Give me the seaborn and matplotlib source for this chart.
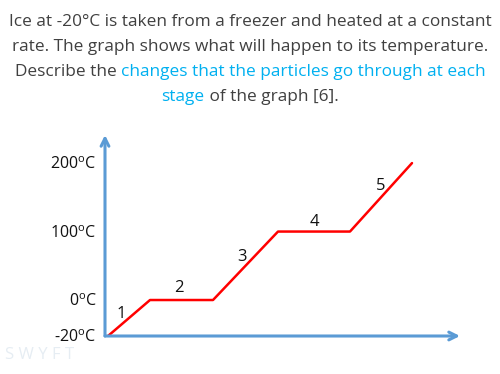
import numpy as np
import pandas as pd
import matplotlib
matplotlib.use("Agg")
import matplotlib.pyplot as plt
import seaborn as sns

# ---- data ----
time = [0, 4.2, 10.5, 17.0, 24.2, 30.4]
temperature = [-20, 0, 0, 100, 100, 200]
stage_labels = ["1", "2", "3", "4", "5"]
stage_x = [1.3, 7.1, 13.4, 20.6, 27.3]
stage_y = [-8, 17, 63, 114, 166]
ytick_values = [-20, 0, 100, 200]
ytick_labels = ["-20$^\\mathregular{o}$C", "0$^\\mathregular{o}$C",
                "100$^\\mathregular{o}$C", "200$^\\mathregular{o}$C"]

sns.set_style("white")
plt.rcParams['font.family'] = ['Open Sans', 'DejaVu Sans']

fig = plt.figure(figsize=(5, 3.74), dpi=100)
ax = fig.add_axes([0.21, 0.1016, 0.71, 0.5374])

# piecewise-linear schematic temperature scale
src = [-20, 0, 300]
dst = [0, 36, 36 + 300 * 0.685]
fwd = lambda v: np.interp(v, src, dst)
inv = lambda v: np.interp(v, dst, src)
ax.set_yscale('function', functions=(fwd, inv))

df = pd.DataFrame({"time": time, "temperature": temperature})
sns.lineplot(data=df, x="time", y="temperature", ax=ax, color="#ff0000",
             linewidth=1.8, sort=False)

ax.set_xlim(-0.3, 35.2)
ax.set_ylim(-20, 241)
for s in ax.spines.values():
    s.set_visible(False)
ax.set_xticks([])
ax.set_yticks(ytick_values)
ax.set_yticklabels(ytick_labels, fontsize=11.5, color="#111111")
ax.tick_params(axis='y', length=0, pad=6)
ax.set_xlabel("")
ax.set_ylabel("")

axis_col = "#5b9bd5"
ax.annotate("", xy=(0, 1.0), xytext=(0, 0), xycoords='axes fraction',
            arrowprops=dict(arrowstyle='->', color=axis_col, lw=2.2,
                            mutation_scale=14, shrinkA=0, shrinkB=0))
ax.annotate("", xy=(1.0, 0), xytext=(0, 0), xycoords='axes fraction',
            arrowprops=dict(arrowstyle='->', color=axis_col, lw=2.2,
                            mutation_scale=14, shrinkA=0, shrinkB=0))

for lab, x, y in zip(stage_labels, stage_x, stage_y):
    ax.text(x, y, lab, fontsize=12, ha='center', va='center', color="#111111")

# faint watermark
fig.text(0.01, 0.05, "S W Y F T", fontsize=12, color="#e6edf3", ha='left', va='center')

# ---- title with mixed colours ----
gray = "#404040"
blue = "#00b0f0"
fs = 12.4
lines = [
    [("Ice at -20°C is taken from a freezer and heated at a constant", gray)],
    [("rate. The graph shows what will happen to its temperature.", gray)],
    [("Describe the ", gray), ("changes that the particles go through at each", blue)],
    [("stage", blue), (" of the graph [6].", gray)],
]
ys = [22, 47, 72, 97]
fig.canvas.draw()
r = fig.canvas.get_renderer()
for parts, ypx in zip(lines, ys):
    texts = []
    widths = []
    for s, c in parts:
        t = fig.text(0, 1 - ypx / 374, s, fontsize=fs, color=c, ha='left', va='center')
        w = t.get_window_extent(renderer=r).width
        texts.append(t)
        widths.append(w)
    total = sum(widths)
    x0 = 250 - total / 2
    for t, w in zip(texts, widths):
        t.set_x(x0 / 500)
        x0 += w

fig.savefig("out.png", dpi=100)
